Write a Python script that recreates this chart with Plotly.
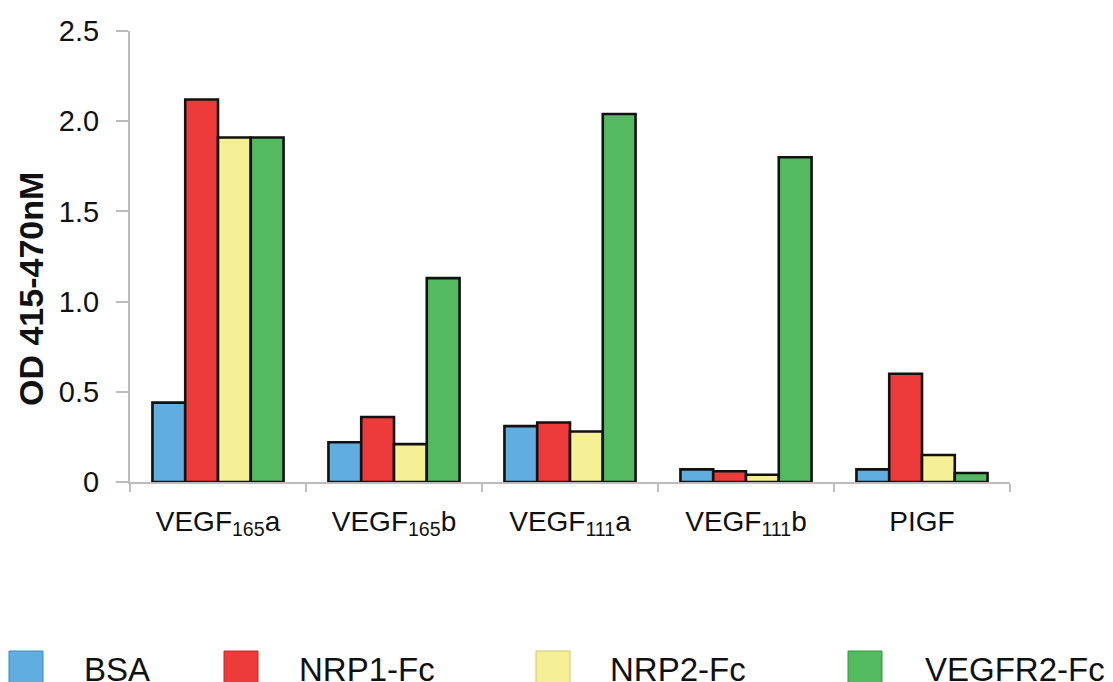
import plotly.graph_objects as go

categories = ["VEGF<sub>165</sub>a", "VEGF<sub>165</sub>b", "VEGF<sub>111</sub>a", "VEGF<sub>111</sub>b", "PIGF"]
series_names = ["BSA", "NRP1-Fc", "NRP2-Fc", "VEGFR2-Fc"]
bsa = [0.44, 0.22, 0.31, 0.07, 0.07]
nrp1 = [2.12, 0.36, 0.33, 0.06, 0.60]
nrp2 = [1.91, 0.21, 0.28, 0.04, 0.15]
vegfr2 = [1.91, 1.13, 2.04, 1.80, 0.05]
colors = ["#62ADE0", "#EE3A3A", "#F5F096", "#53BA5F"]
ytick_vals = [0, 0.5, 1.0, 1.5, 2.0, 2.5]
ytick_text = ["0", "0.5", "1.0", "1.5", "2.0", "2.5"]
y_title = "OD 415-470nM"

W, H = 1113, 682
L, R, T, B = 130, 103, 31, 200
PW, PH = W - L - R, H - T - B

def px_x(px):
    return (px - L) / PW

def px_y(py):
    return (H - B - py) / PH

FONT = "Liberation Sans, Arial, sans-serif"
AXIS_COLOR = "#bcbcbc"

fig = go.Figure()
for name, vals, col in zip(series_names, [bsa, nrp1, nrp2, vegfr2], colors):
    fig.add_trace(go.Bar(
        x=categories, y=vals, name=name,
        marker=dict(color=col, line=dict(color="#111111", width=2.6)),
        showlegend=False,
    ))

fig.update_layout(
    width=W, height=H,
    margin=dict(l=L, r=R, t=T, b=B, pad=0),
    paper_bgcolor="white", plot_bgcolor="white",
    barmode="group", bargap=0.255, bargroupgap=0,
    font=dict(family=FONT, size=28, color="#111111"),
)
fig.update_xaxes(
    showgrid=False, zeroline=False,
    showline=True, linecolor=AXIS_COLOR, linewidth=2,
    ticks="outside", tickson="boundaries", ticklen=8, tickwidth=2, tickcolor=AXIS_COLOR,
    tickfont=dict(size=28, family=FONT, color="#111111"),
    ticklabelstandoff=13,
    range=[-0.5, 4.5],
)
fig.update_yaxes(
    range=[0, 2.5], showgrid=False, zeroline=False,
    showline=True, linecolor=AXIS_COLOR, linewidth=2,
    ticks="outside", ticklen=12, tickwidth=2, tickcolor=AXIS_COLOR,
    tickvals=ytick_vals, ticktext=ytick_text,
    tickfont=dict(size=29, family=FONT, color="#111111"),
    ticklabelstandoff=11,
)

# short extension of the x axis line left of the y axis
fig.add_shape(type="line", xref="paper", yref="paper",
              x0=px_x(117), x1=0, y0=0, y1=0,
              line=dict(color=AXIS_COLOR, width=2))

# y axis title
fig.add_annotation(text="<b>" + y_title + "</b>", xref="paper", yref="paper",
                   x=px_x(31), y=px_y(289), textangle=-90, showarrow=False,
                   xanchor="center", yanchor="middle",
                   font=dict(size=34, family=FONT, color="#111111"))

# manual legend at the bottom
sq_left = [9, 224, 536, 848]
txt_left = [82, 297, 608, 923]
sq_size = 34
sq_top = 651
border = ["#3f88bf", "#c42626", "#cfc76a", "#2f9a3c"]
for name, col, bcol, sx, tx in zip(series_names, colors, border, sq_left, txt_left):
    fig.add_shape(type="rect", xref="paper", yref="paper",
                  x0=px_x(sx), x1=px_x(sx + sq_size),
                  y0=px_y(sq_top + sq_size), y1=px_y(sq_top),
                  fillcolor=col, line=dict(color=bcol, width=1))
    fig.add_annotation(text=name, xref="paper", yref="paper",
                       x=px_x(tx), y=px_y(669), showarrow=False,
                       xanchor="left", yanchor="middle",
                       font=dict(size=33, family=FONT, color="#111111"))

fig.write_html("out.html")
